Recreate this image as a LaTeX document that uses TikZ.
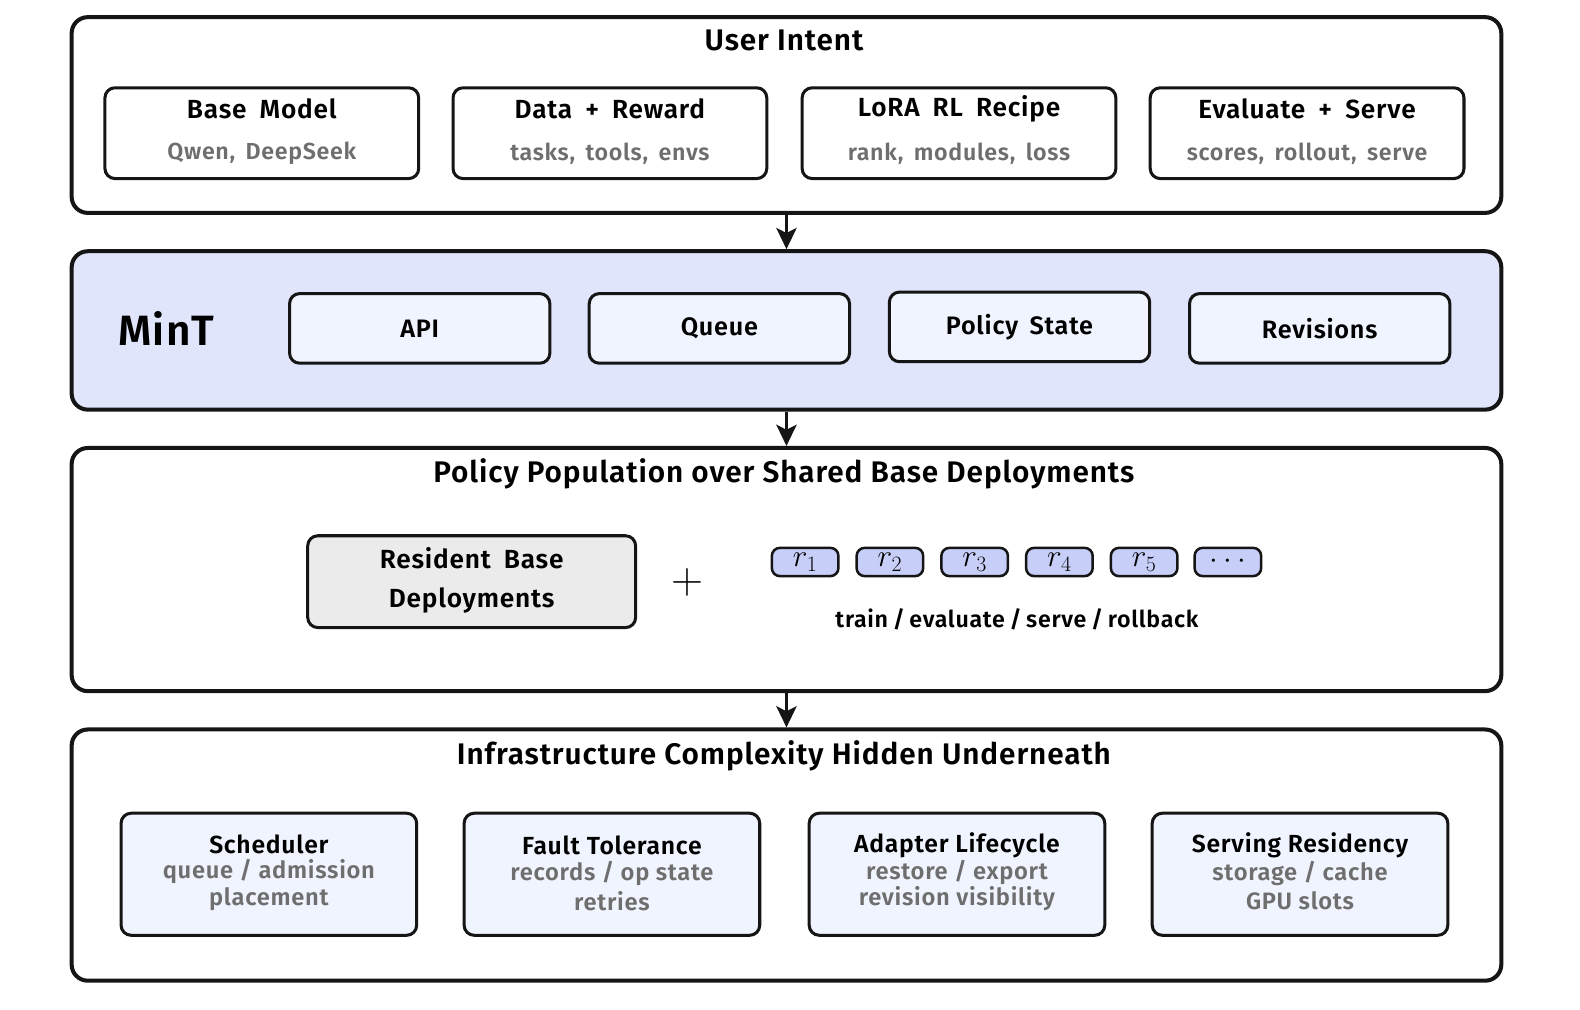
\RequirePackage{fix-cm}
\documentclass[tikz,border=0pt]{standalone}
\usepackage{fontspec}
\setmainfont{Fira Sans}[BoldFont={Fira Sans SemiBold}, LetterSpace=3]
\usetikzlibrary{arrows.meta}
\definecolor{mintbg}{HTML}{E0E5FB}
\definecolor{boxbg}{HTML}{F0F4FE}
\definecolor{chipbg}{HTML}{C7CEF8}
\definecolor{resbg}{HTML}{EBEBEB}
\definecolor{subgray}{HTML}{6E6E6E}
\definecolor{edge}{HTML}{151515}
\newcommand{\wideSp}[1]{\spaceskip=#1em\relax}
\newcommand{\chipm}[1]{{\fontsize{31}{33}\selectfont$#1$}}
\begin{document}
\begin{tikzpicture}[x=1pt,y=-1pt,
  layer/.style={draw=edge, line width=4pt, rounded corners=16pt, anchor=north west, minimum width=1417pt, inner sep=0pt},
  ibox/.style={draw=edge, line width=3pt, rounded corners=10pt, inner sep=0pt},
  ttl/.style={font={\fontsize{29.5}{34}\selectfont\bfseries}, inner sep=0pt},
  btitle/.style={font={\fontsize{26}{30}\selectfont\bfseries\wideSp{0.5}}, inner sep=0pt},
  bsub/.style={font={\fontsize{23}{27}\selectfont\bfseries\wideSp{0.45}}, text=subgray, inner sep=0pt},
  mbox/.style={ibox, fill=boxbg, minimum width=258pt, minimum height=69pt, font={\fontsize{25}{29}\selectfont\bfseries\wideSp{0.45}}},
  lbox/.style={ibox, fill=boxbg, minimum width=293pt, minimum height=121pt},
  lt/.style={font={\fontsize{24.5}{28}\selectfont\bfseries}, inner sep=0pt},
  ls/.style={font={\fontsize{23.5}{27}\selectfont\bfseries}, text=subgray, inner sep=0pt},
  chip/.style={draw=edge, line width=2.5pt, rounded corners=8pt, fill=chipbg, minimum width=66pt, minimum height=28pt, inner sep=0pt},
  arr/.style={line width=3.5pt, draw=edge, -{Stealth[length=21pt,width=20pt,inset=5pt]}}
]
\useasboundingbox (0,0) rectangle (1566,1001);

% Layer 1
\node[layer, minimum height=194pt] (L1) at (69,15) {};
\node[ttl] (t1) at (777,40) {User Intent};
\node[ibox, minimum width=311pt, minimum height=90pt] (bm) at (259.5,132) {};
\node[btitle] (bm-t) at (259.5,108) {Base Model};
\node[bsub] (bm-s) at (259.5,152) {Qwen, DeepSeek};
\node[ibox, minimum width=311pt, minimum height=90pt] (dr) at (604.5,132) {};
\node[btitle] (dr-t) at (604.5,108) {Data + Reward};
\node[bsub] (dr-s) at (604.5,152) {tasks, tools, envs};
\node[ibox, minimum width=311pt, minimum height=90pt] (lr) at (950.5,132) {};
\node[btitle] (lr-t) at (950.5,108) {LoRA RL Recipe};
\node[bsub] (lr-s) at (950.5,152) {rank, modules, loss};
\node[ibox, minimum width=311pt, minimum height=90pt] (es) at (1295.5,132) {};
\node[btitle] (es-t) at (1295.5,108) {Evaluate + Serve};
\node[bsub] (es-s) at (1295.5,152) {scores, rollout, serve};

% Layer 2
\node[layer, fill=mintbg, minimum height=157pt] (L2) at (69,247) {};
\node[inner sep=0pt, font={\fontsize{42}{46}\selectfont\bfseries}] (mint) at (165,326) {MinT};
\node[mbox] (api) at (416,325.5) {API};
\node[mbox] (queue) at (713,325.5) {Queue};
\node[mbox] (pstate) at (1010.5,324) {Policy State};
\node[mbox] (rev) at (1308,325.5) {Revisions};

% Layer 3
\node[layer, minimum height=241pt] (L3) at (69,442) {};
\node[ttl] (t3) at (777,470) {Policy Population over Shared Base Deployments};
\node[ibox, fill=resbg, minimum width=325pt, minimum height=91pt] (res) at (467.5,576.5) {};
\node[btitle] (res-a) at (467.5,553) {Resident Base};
\node[btitle] (res-b) at (467.5,595) {Deployments};
\node[inner sep=0pt, font={\fontsize{44}{48}\selectfont}] (plus) at (681,577) {$+$};
\node[chip] (r1) at (798,557) {\chipm{r_1}};
\node[chip] (r2) at (882,557) {\chipm{r_2}};
\node[chip] (r3) at (966,557) {\chipm{r_3}};
\node[chip] (r4) at (1050,557) {\chipm{r_4}};
\node[chip] (r5) at (1134,557) {\chipm{r_5}};
\node[chip] (rd) at (1217,557) {\chipm{\cdots}};
\node[inner sep=0pt, font={\fontsize{23}{27}\selectfont\bfseries\wideSp{0.2}}] (ops) at (1008,614) {train / evaluate / serve / rollback};

% Layer 4
\node[layer, minimum height=249pt] (L4) at (69,721) {};
\node[ttl] (t4) at (777,749) {Infrastructure Complexity Hidden Underneath};
\node[lbox] (sch) at (266.5,866.5) {};
\node[lt] (sch-a) at (266.5,837) {Scheduler};
\node[ls] (sch-b) at (266.5,864) {queue / admission};
\node[ls] (sch-c) at (266.5,891) {placement};
\node[lbox] (ft) at (606.5,866.5) {};
\node[lt] (ft-a) at (606.5,838) {Fault Tolerance};
\node[ls] (ft-b) at (606.5,866) {records / op state};
\node[ls] (ft-c) at (606.5,893) {retries};
\node[lbox] (al) at (948.5,866.5) {};
\node[lt] (al-a) at (948.5,838) {Adapter Lifecycle};
\node[ls] (al-b) at (948.5,865) {restore / export};
\node[ls] (al-c) at (948.5,891) {revision visibility};
\node[lbox] (sr) at (1288.5,866.5) {};
\node[lt] (sr-a) at (1288.5,838) {Serving Residency};
\node[ls] (sr-b) at (1288.5,866) {storage / cache};
\node[ls] (sr-c) at (1288.5,893) {GPU slots};

% Arrows
\draw[arr] (L1.south) -- (L2.north);
\draw[arr] (L2.south) -- (L3.north);
\draw[arr] (L3.south) -- (L4.north);
\end{tikzpicture}
\end{document}
